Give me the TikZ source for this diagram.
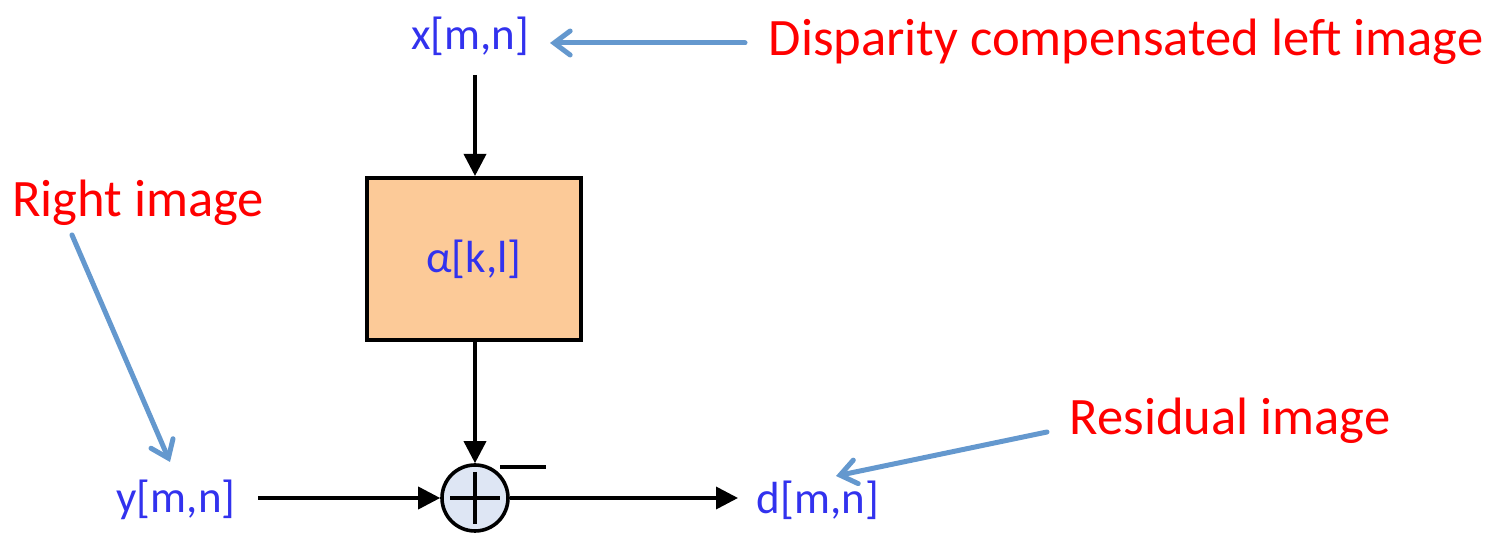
\documentclass[tikz,border=0pt]{standalone}
\usepackage{fontspec}
\setmainfont{Carlito}
\usetikzlibrary{arrows.meta}
\definecolor{sigblue}{RGB}{50,50,238}
\definecolor{annot}{RGB}{100,152,206}
\definecolor{peach}{RGB}{252,202,152}
\definecolor{sumfill}{RGB}{222,230,244}
\begin{document}
\begin{tikzpicture}[x=0.5pt,y=-0.5pt,
  sig/.style={text=sigblue,font=\fontsize{22.5}{26}\selectfont,inner sep=0pt},
  note/.style={text=red,font=\fontsize{26.3}{30}\selectfont,inner sep=0pt},
  flow/.style={line width=1.8pt,-{Triangle[length=11pt,width=11pt]}},
  annarrow/.style={annot,line width=2.5pt,line cap=round,-{Straight Barb[length=8pt,width=12pt,line cap=round]}},
  block/.style={draw=black,line width=2pt,fill=peach,minimum width=107pt,minimum height=81pt,inner sep=0pt},
  summer/.style={draw=black,line width=1.8pt,fill=sumfill,circle,minimum size=33pt,inner sep=0pt}]
\useasboundingbox (0,0) rectangle (1495,533);
% signal labels
\node[sig] (xmn) at (470,36) {x[m,n]};
\node[sig] (ymn) at (176,500) {y[m,n]};
\node[sig] (dmn) at (818,500) {d[m,n]};
% blocks
\node[block] (alpha) at (474,259) {};
\node[sig] at (alpha.center) {α[k,l]};
\node[summer] (sum) at (475,498) {};
\draw[line width=1.8pt] (sum.center) ++(-25,0) -- ++(50,0);
\draw[line width=1.8pt] (sum.center) ++(0,-26) -- ++(0,52);
\coordinate (minusL) at (500,467);
\coordinate (minusR) at (546,467);
\draw[line width=1.8pt] (minusL) -- (minusR);
% flow arrows
\coordinate (topstart) at (475,75);
\draw[flow] (topstart) -- (alpha.north -| topstart);
\draw[flow] (alpha.south -| sum) -- (sum.north);
\coordinate (ystart) at (258,498);
\draw[flow] (ystart) -- (sum.west);
\coordinate (dend) at (738,498);
\draw[flow] (sum.east) -- (dend);
% annotations
\node[note] (disp) at (1126,42) {Disparity compensated left image};
\node[note] (right) at (138,203) {Right image};
\node[note] (resid) at (1230,421) {Residual image};
\coordinate (a1s) at (745,43);
\coordinate (a1e) at (550,43);
\draw[annarrow] (a1s) -- (a1e);
\coordinate (a2s) at (72,235);
\coordinate (a2e) at (170,462);
\draw[annarrow] (a2s) -- (a2e);
\coordinate (a3s) at (1047,432);
\coordinate (a3e) at (836,476);
\draw[annarrow] (a3s) -- (a3e);
\end{tikzpicture}
\end{document}
